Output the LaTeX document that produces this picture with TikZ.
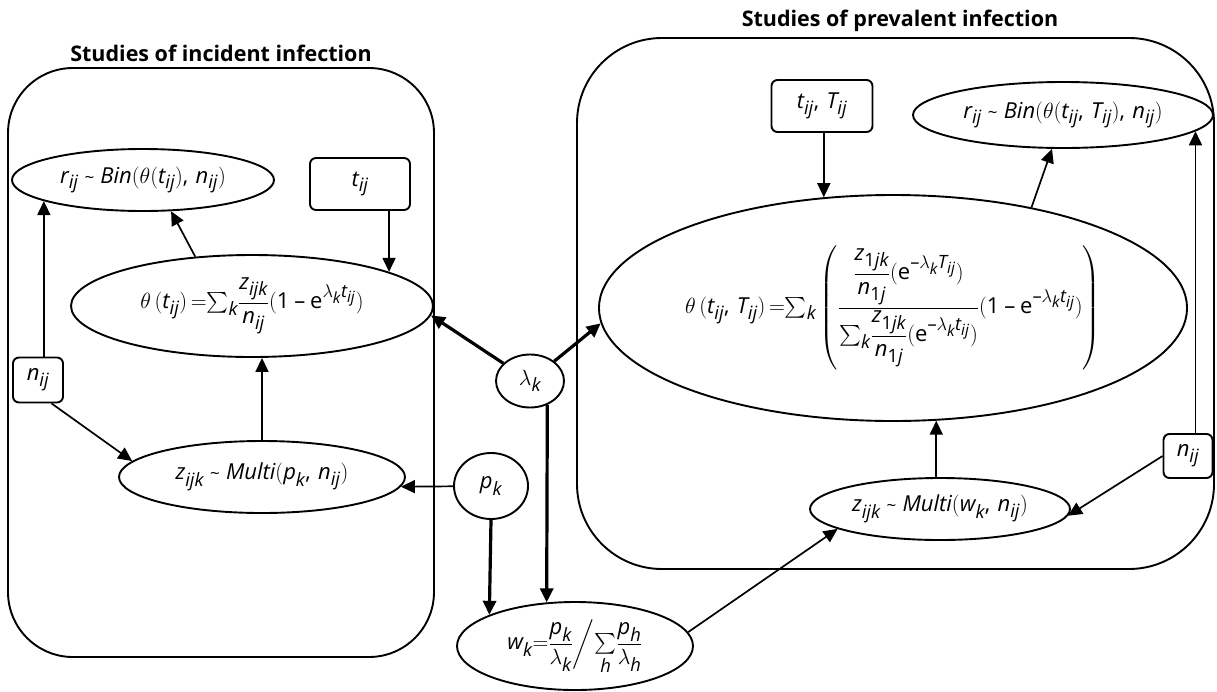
\RequirePackage{fix-cm}
\documentclass[tikz,border=0pt]{standalone}
\usepackage{amsmath}
\usepackage{exscale}
\usepackage{fontspec}
\setmainfont{Open Sans}
\IfFileExists{mathastext.sty}{\usepackage[italic]{mathastext}}{}
\usetikzlibrary{arrows.meta,shapes.geometric}
\newcommand{\tld}{\;\text{\fontsize{17}{17}\selectfont\textasciitilde}\;}
\newcommand{\one}{\text{\normalfont 1}}
\begin{document}
\begin{tikzpicture}[x=1pt,y=-1pt,
  every node/.style={font=\fontsize{22}{26}\selectfont, inner sep=0pt},
  ell/.style={draw, ellipse, line width=1.9pt},
  box/.style={draw, rectangle, rounded corners=6pt, line width=1.9pt},
  panel/.style={draw, line width=1.9pt},
  ttl/.style={font=\fontsize{21.5}{25}\selectfont\bfseries},
  arr/.style={line width=1.7pt, -{Triangle[length=14pt,width=13pt]}},
  tarr/.style={line width=3.2pt, -{Triangle[length=14pt,width=13pt]}},
]
\useasboundingbox (0,0) rectangle (1217,691);
% titles and panels
\node[ttl] (tl) at (221,53) {Studies of incident infection};
\node[ttl] (tr) at (900,21) {Studies of prevalent infection};
\draw[panel, rounded corners=65pt] (8,68) rectangle (434,657);
\draw[panel, rounded corners=85pt] (577,38) rectangle (1214,569);
% left panel nodes
\node[ell, minimum width=262pt, minimum height=62pt] (rL) at (143,180)
  {$r_{ij}\tld\textit{Bin}(\theta(t_{ij}),\,n_{ij})$};
\node[box, minimum width=100pt, minimum height=52pt] (tL) at (360,184) {$t_{ij}$};
\node[ell, minimum width=362pt, minimum height=102pt] (thL) at (252,306)
  {$\theta\,(t_{ij})\,{=}{\textstyle\sum_k}\dfrac{z_{ijk}}{n_{ij}}(\one-\mathrm{e}^{\lambda_k t_{ij}})$};
\node[box, minimum width=50pt, minimum height=45pt] (nL) at (38,380) {$n_{ij}$};
\node[ell, minimum width=286pt, minimum height=72pt] (zL) at (262,477)
  {$z_{ijk}\tld\textit{Multi}(p_k,\,n_{ij})$};
% middle nodes
\node[ell, minimum width=68pt, minimum height=53pt] (lam) at (530,381) {$\lambda_k$};
\node[ell, minimum width=74pt, minimum height=66pt] (pk) at (491,486) {$p_k$};
\node[ell, minimum width=236pt, minimum height=88pt] (w) at (575,646)
  {$w_k{=}\dfrac{p_k}{\lambda_k}\bigg/{\textstyle\sum\limits_h}\dfrac{p_h}{\lambda_h}$};
% right panel nodes
\node[box, minimum width=101pt, minimum height=52pt] (tR) at (822,106) {$t_{ij},\,T_{ij}$};
\node[ell, minimum width=300pt, minimum height=66pt] (rR) at (1063,115)
  {$r_{ij}\tld\textit{Bin}(\theta(t_{ij},\,T_{ij}),\,n_{ij})$};
\node[ell, minimum width=584pt, minimum height=226pt] (thR) at (893,308)
  {$\theta\,(t_{ij},\,T_{ij})\,{=}{\textstyle\sum_k}\left(\dfrac{\dfrac{z_{\one jk}}{n_{\one j}}(\mathrm{e}^{-\lambda_k T_{ij}})}{{\textstyle\sum_k}\dfrac{z_{\one jk}}{n_{\one j}}(\mathrm{e}^{-\lambda_k t_{ij}})}(\one-\mathrm{e}^{-\lambda_k t_{ij}})\right)$};
\node[box, minimum width=49pt, minimum height=44pt] (nR) at (1188,456) {$n_{ij}$};
\node[ell, minimum width=260pt, minimum height=62pt] (zR) at (940,509)
  {$z_{ijk}\tld\textit{Multi}(w_k,\,n_{ij})$};
% left connectors
\draw[arr] (nL.north -| rL.192) -- (rL.192);
\draw[arr] (thL.139) -- (rL.312);
\draw[arr] (tL.south -| thL.14) -- (thL.14);
\draw[arr] (zL.north) -- (zL.north |- thL.south);
\draw[arr] (nL.-60) -- (zL.173);
\draw[arr] (pk) -- (zL.-4);
% middle connectors
\draw[tarr] (lam) -- (thL.-3);
\draw[tarr] (lam) -- (thR.183);
\draw[tarr] (lam.-54) -- (w.123);
\draw[tarr] (pk.south) -- (w.160);
\draw[arr] (w.7) -- (zR.191);
% right connectors
\draw[arr] (nR.west) -- (zR.-3);
\draw[arr] (nR.north -| rR.-7) -- (rR.-7);
\draw[arr] (thR.36) -- (rR.252);
\draw[arr] (tR.south -| thR.122) -- (thR.122);
\draw[arr] (zR.north -| thR.-69) -- (thR.-69);
\end{tikzpicture}
\end{document}
